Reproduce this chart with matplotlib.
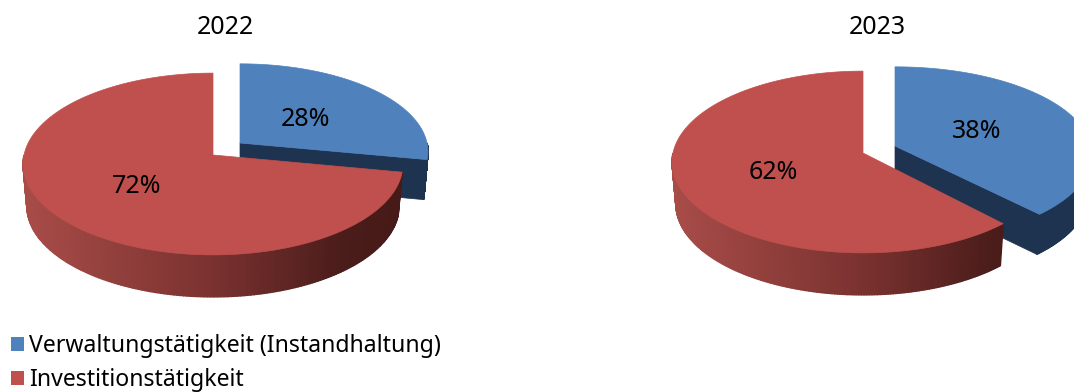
import numpy as np
import matplotlib
matplotlib.use("Agg")
import matplotlib.pyplot as plt
from matplotlib.patches import Polygon, Patch

# ---- data ----
years = ["2022", "2023"]
categories = ["Verwaltungstätigkeit (Instandhaltung)", "Investitionstätigkeit"]
verwaltung = [28, 38]
investition = [72, 62]

# ---- style / layout (pixels) ----
W, H = 1074, 392
BLUE, BLUE_DARK = "#4F81BD", "#1E3350"
RED = "#C0504D"
TILT = 0.099          # perspective strength
RED_DEPTH = 42
BLUE_DEPTH = 40
BASE_SCALE = 0.98

plt.rcParams["font.family"] = ["Noto Sans", "DejaVu Sans"]
fig = plt.figure(figsize=(W / 100, H / 100), dpi=100)
ax = fig.add_axes([0, 0, 1, 1])
ax.set_xlim(0, W)
ax.set_ylim(H, 0)
ax.axis("off")


def project(theta, r, cx, cy, rx, ry, drop=0.0):
    """theta clockwise from 12 o'clock; r in 0..1."""
    u, v = r * np.sin(theta), r * np.cos(theta)
    s = 1 / (1 + TILT * v)
    scale = BASE_SCALE if drop else 1.0
    return cx + rx * u * s * scale, cy - ry * v * s + drop


def wedge_outline(a0, a1, cx, cy, rx, ry):
    th = np.linspace(a0, a1, 200)
    x, y = project(th, 1.0, cx, cy, rx, ry)
    return np.column_stack([np.r_[cx, x], np.r_[cy, y]])


def red_shade(t):
    stops_t = [0.0, 0.5, 0.85, 1.0]
    stops = np.array([[168, 76, 72], [122, 50, 48], [74, 28, 26], [70, 26, 24]]) / 255
    return tuple(np.interp(t, stops_t, stops[:, i]) for i in range(3))


def draw_wall(a0, a1, cx, cy, rx, ry, colour, z, depth):
    th = np.linspace(a0, a1, 181)
    x0, y0 = project(th, 1.0, cx, cy, rx, ry)
    x1, y1 = project(th, 1.0, cx, cy, rx, ry, drop=depth)
    for i in range(len(th) - 1):
        c = colour if colour is not None else red_shade((x0[i] - (cx - rx)) / (2 * rx))
        ax.add_patch(Polygon([(x0[i], y0[i]), (x0[i + 1], y0[i + 1]),
                              (x1[i + 1], y1[i + 1]), (x1[i], y1[i])],
                             closed=True, fc=c, ec=c, lw=1.0, zorder=z))


def draw_pie(blue_val, red_val, red_geo, blue_geo):
    split = 2 * np.pi * blue_val / (blue_val + red_val)
    # blue slice: detached, drawn first
    bx, by, brx, bry = blue_geo
    draw_wall(np.pi / 2, split, bx, by, brx, bry, BLUE_DARK, 1, BLUE_DEPTH)
    ex, ey = project(split, 1.0, bx, by, brx, bry)
    ex2, ey2 = project(split, 1.0, bx, by, brx, bry, drop=BLUE_DEPTH)
    ax.add_patch(Polygon([(bx, by), (ex, ey), (ex2, ey2), (bx, by + BLUE_DEPTH)],
                         closed=True, fc=BLUE_DARK, ec=BLUE_DARK, lw=0.5, zorder=1))
    ax.add_patch(Polygon(wedge_outline(0, split, bx, by, brx, bry),
                         closed=True, fc=BLUE, ec=BLUE, lw=0.5, zorder=2))
    # red slice
    rx0, ry0, rrx, rry = red_geo
    draw_wall(split, np.pi * 1.5, rx0, ry0, rrx, rry, None, 3, RED_DEPTH)
    ax.add_patch(Polygon(wedge_outline(split, 2 * np.pi, rx0, ry0, rrx, rry),
                         closed=True, fc=RED, ec=RED, lw=0.5, zorder=4))


red_geometry = [(213, 155, 189, 90), (863, 153, 190, 90)]
blue_geometry = [(240, 143, 187, 87), (895, 146, 196, 87)]
title_x = [225, 877]
blue_label_xy = [(306, 119), (977, 131)]
red_label_xy = [(137, 186), (773, 172)]

FS = 18
LEGEND_FS = 16.6
for i, year in enumerate(years):
    draw_pie(verwaltung[i], investition[i], red_geometry[i], blue_geometry[i])
    ax.text(title_x[i], 27, year, ha="center", va="center", fontsize=FS, color="black", zorder=6)
    ax.text(*blue_label_xy[i], f"{verwaltung[i]}%", ha="center", va="center",
            fontsize=FS, color="black", zorder=6)
    ax.text(*red_label_xy[i], f"{investition[i]}%", ha="center", va="center",
            fontsize=FS, color="black", zorder=6)

handles = [Patch(fc=BLUE, ec="none", label=categories[0]),
           Patch(fc=RED, ec="none", label=categories[1])]
ax.legend(handles=handles, loc="lower left", bbox_to_anchor=(11 / W, 0), frameon=False,
          fontsize=LEGEND_FS, handlelength=0.57, handleheight=0.57, handletextpad=0.22,
          labelspacing=0.42, borderpad=0, borderaxespad=0)

fig.savefig("out.png", dpi=100)
